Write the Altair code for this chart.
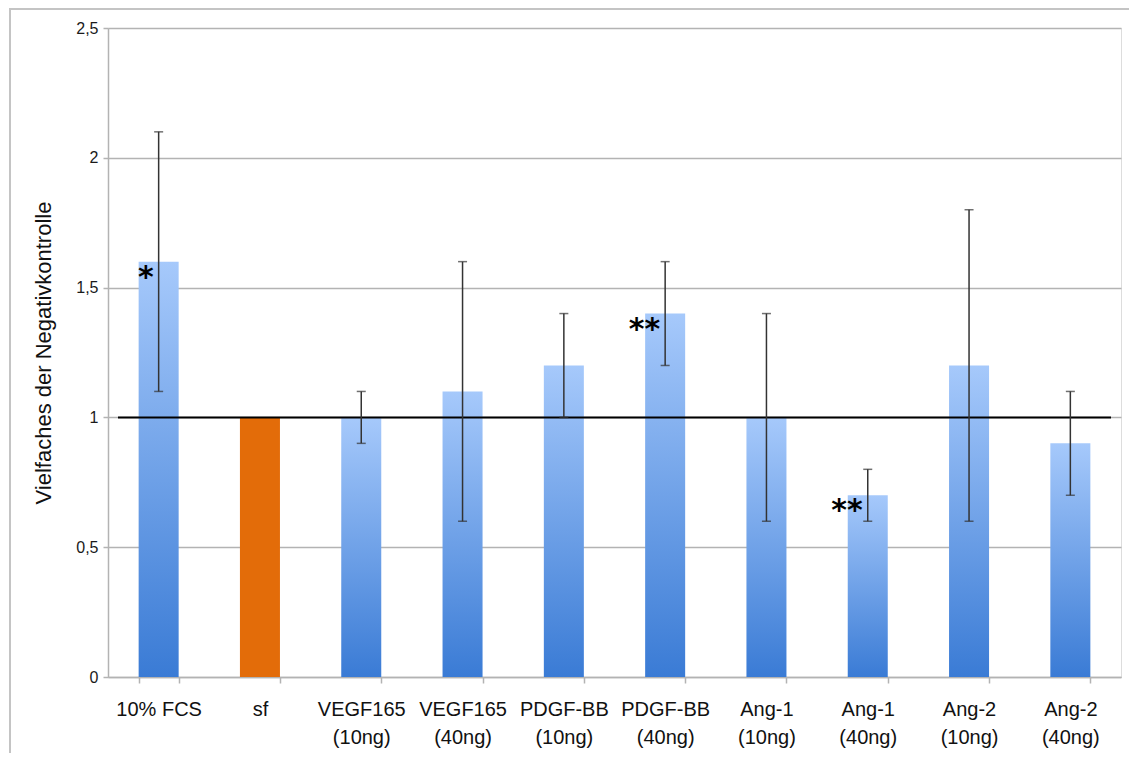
import altair as alt
import pandas as pd

categories = ["10% FCS", "sf", "VEGF165\n(10ng)", "VEGF165\n(40ng)", "PDGF-BB\n(10ng)",
              "PDGF-BB\n(40ng)", "Ang-1\n(10ng)", "Ang-1\n(40ng)", "Ang-2\n(10ng)", "Ang-2\n(40ng)"]
values = [1.6, 1.0, 1.0, 1.1, 1.2, 1.4, 1.0, 0.7, 1.2, 0.9]
err_low = [1.1, None, 0.9, 0.6, 1.0, 1.2, 0.6, 0.6, 0.6, 0.7]
err_high = [2.1, None, 1.1, 1.6, 1.4, 1.6, 1.4, 0.8, 1.8, 1.1]
signif = ["*", "", "", "", "", "**", "", "**", "", ""]
control = ["", "sf", "", "", "", "", "", "", "", ""]
y_ticks = [0, 0.5, 1, 1.5, 2, 2.5]
reference = [1.0]

df = pd.DataFrame({"cat": categories, "value": values, "low": err_low,
                   "high": err_high, "sig": signif, "ctrl": control})
ref_df = pd.DataFrame({"ref": reference})
frame_df = pd.DataFrame({"f": [0]})

W, H = 1013, 649
GRAY = "#b3b3b3"

x_enc = alt.X("cat:N", sort=categories,
              scale=alt.Scale(paddingInner=0.605, paddingOuter=0.3025),
              axis=alt.Axis(title=None, labelAngle=0, tickBand="extent",
                            labelExpr="split(datum.label, '\\n')",
                            labelFontSize=20, labelLineHeight=28, labelPadding=16,
                            labelColor="#111111", domainColor=GRAY, domainWidth=1.5,
                            tickColor=GRAY, tickWidth=1.5, tickSize=6))
y_scale = alt.Scale(domain=[0, 2.5], nice=False)
y_enc = alt.Y("value:Q", scale=y_scale,
              axis=alt.Axis(title="Vielfaches der Negativkontrolle", values=y_ticks,
                            format=".1~f", labelExpr="replace(datum.label, '.', ',')",
                            labelFontSize=16, labelColor="#1a1a1a", labelPadding=5,
                            titleFontSize=22, titleFontWeight="normal", titleColor="#111111",
                            titlePadding=20, grid=True, gridColor=GRAY, gridWidth=1.5,
                            domainColor=GRAY, domainWidth=1.5, tickColor=GRAY,
                            tickWidth=1.5, tickSize=5))

base = alt.Chart(df)

gradient = {"gradient": "linear", "x1": 0, "y1": 0, "x2": 0, "y2": 1,
            "stops": [{"offset": 0, "color": "#a6c9fb"},
                      {"offset": 1, "color": "#3a7bd5"}]}

blue_bars = base.transform_filter("datum.ctrl == ''").mark_bar(fill=gradient).encode(x=x_enc, y=y_enc)
orange_bar = base.transform_filter("datum.ctrl != ''").mark_bar(fill="#e36c09").encode(x=x_enc, y="value:Q")

err_rule = base.transform_filter("isValid(datum.low)").mark_rule(color="#333333", strokeWidth=1.5).encode(
    x=x_enc, y=alt.Y("low:Q", scale=y_scale), y2="high:Q")
cap_low = base.transform_filter("isValid(datum.low)").mark_tick(color="#333333", size=9, thickness=1.5).encode(
    x=x_enc, y=alt.Y("low:Q", scale=y_scale))
cap_high = base.transform_filter("isValid(datum.high)").mark_tick(color="#333333", size=9, thickness=1.5).encode(
    x=x_enc, y=alt.Y("high:Q", scale=y_scale))

ref_line = alt.Chart(ref_df).mark_rule(color="#000000", strokeWidth=2).encode(
    y=alt.Y("ref:Q", scale=y_scale), x=alt.value(10), x2=alt.value(W - 10))

stars = base.transform_filter("datum.sig != ''").mark_text(
    align="right", baseline="alphabetic", dx=-5, dy=25, fontSize=30, fontWeight="bold",
    font="DejaVu Sans", color="#000000").encode(x=x_enc, y=alt.Y("value:Q", scale=y_scale), text="sig:N")

frame = alt.Chart(frame_df).mark_rect(fill=None, stroke="#c4c4c4", strokeWidth=2).encode(
    x=alt.value(-98), x2=alt.value(W + 40), y=alt.value(-19), y2=alt.value(H + 120))

chart = alt.layer(frame, blue_bars, orange_bar, ref_line, err_rule, cap_low, cap_high, stars).properties(
    width=W, height=H,
    autosize=alt.AutoSizeParams(type="none"),
    padding={"left": 100, "top": 20, "right": 8, "bottom": 76},
).configure_view(stroke=None).configure(font="Liberation Sans")

chart.save("out.html", embed_options={"renderer": "svg", "actions": False})
